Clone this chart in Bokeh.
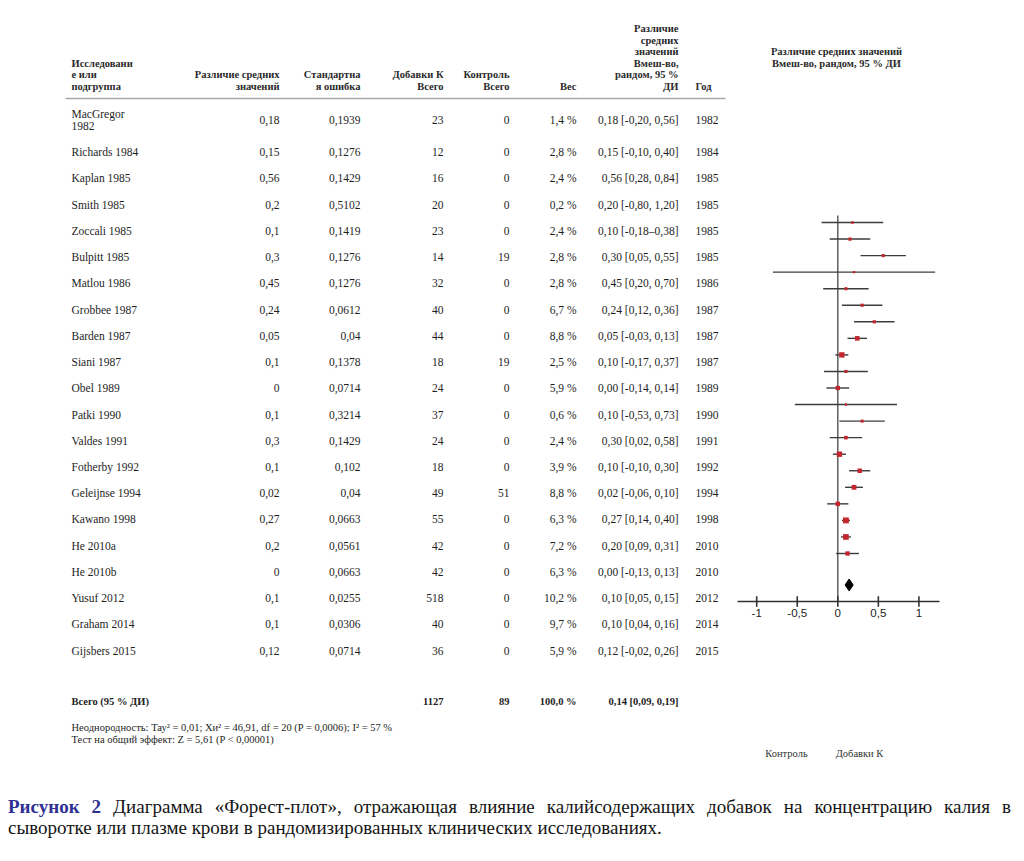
from bokeh.plotting import figure
from bokeh.models import Range1d, Div
from bokeh.layouts import column
from bokeh.core.properties import value
from bokeh.embed import file_html
from bokeh.resources import INLINE

# ---------------- data ----------------
studies = ["MacGregor\n1982", "Richards 1984", "Kaplan 1985", "Smith 1985", "Zoccali 1985",
           "Bulpitt 1985", "Matlou 1986", "Grobbee 1987", "Barden 1987", "Siani 1987",
           "Obel 1989", "Patki 1990", "Valdes 1991", "Fotherby 1992", "Geleijnse 1994",
           "Kawano 1998", "He 2010a", "He 2010b", "Yusuf 2012", "Graham 2014", "Gijsbers 2015"]
mean_diff = [0.18, 0.15, 0.56, 0.2, 0.1, 0.3, 0.45, 0.24, 0.05, 0.1, 0, 0.1, 0.3, 0.1,
             0.02, 0.27, 0.2, 0, 0.1, 0.1, 0.12]
std_err = [0.1939, 0.1276, 0.1429, 0.5102, 0.1419, 0.1276, 0.1276, 0.0612, 0.04, 0.1378,
           0.0714, 0.3214, 0.1429, 0.102, 0.04, 0.0663, 0.0561, 0.0663, 0.0255, 0.0306, 0.0714]
n_potassium = [23, 12, 16, 20, 23, 14, 32, 40, 44, 18, 24, 37, 24, 18, 49, 55, 42, 42, 518, 40, 36]
n_control = [0, 0, 0, 0, 0, 19, 0, 0, 0, 19, 0, 0, 0, 0, 51, 0, 0, 0, 0, 0, 0]
weight = [1.4, 2.8, 2.4, 0.2, 2.4, 2.8, 2.8, 6.7, 8.8, 2.5, 5.9, 0.6, 2.4, 3.9, 8.8, 6.3,
          7.2, 6.3, 10.2, 9.7, 5.9]
estimate = [0.18, 0.15, 0.56, 0.20, 0.10, 0.30, 0.45, 0.24, 0.05, 0.10, 0.00, 0.10, 0.30,
            0.10, 0.02, 0.27, 0.20, 0.00, 0.10, 0.10, 0.12]
ci_low = [-0.20, -0.10, 0.28, -0.80, -0.18, 0.05, 0.20, 0.12, -0.03, -0.17, -0.14, -0.53,
          0.02, -0.10, -0.06, 0.14, 0.09, -0.13, 0.05, 0.04, -0.02]
ci_high = [0.56, 0.40, 0.84, 1.20, 0.38, 0.55, 0.70, 0.36, 0.13, 0.37, 0.14, 0.73, 0.58,
           0.30, 0.10, 0.40, 0.31, 0.13, 0.15, 0.16, 0.26]
years = [1982, 1984, 1985, 1985, 1985, 1985, 1986, 1987, 1987, 1987, 1989, 1990, 1991, 1992,
         1994, 1998, 2010, 2010, 2012, 2014, 2015]
total_n_potassium = 1127
total_n_control = 89
total_weight = 100.0
total_est, total_low, total_high = 0.14, 0.09, 0.19
tick_values = [-1, -0.5, 0, 0.5, 1]
tick_labels = ["-1", "-0,5", "0", "0,5", "1"]

# ---------------- layout constants (screen px) ----------------
W, H = 1024, 796
SERIF = "Liberation Serif"
X_STUDY, X_MD, X_SE, X_NK, X_NC, X_W, X_CI, X_YEAR = 71, 279, 360, 443, 509, 576, 678, 695
ROW0_Y, ROW1_Y, ROW_DY = 119, 151.7, 26.23
HEAD_Y, HEAD_LH = 86, 11.6
FX0, FXS = 837.3, 81.1          # forest: screen x of 0, px per unit
FY0, FDY = 222, 16.55           # forest: screen y of first row, px per row
DIAMOND_ROW, AXIS_ROW = 21.9, 22.9


def fmt(v):
    return ("%g" % v).replace(".", ",")


def fmt2(v):
    return ("%.2f" % v).replace(".", ",")


ci_text = ["%s [%s, %s]" % (fmt2(e), fmt2(l), fmt2(h)) for e, l, h in zip(estimate, ci_low, ci_high)]
ci_text[4] = "%s [%s–%s]" % (fmt2(estimate[4]), fmt2(ci_low[4]), fmt2(ci_high[4]))
weight_text = [("%.1f %%" % w).replace(".", ",") for w in weight]

n = len(studies)
row_y = [ROW0_Y] + [ROW1_Y + (i - 1) * ROW_DY for i in range(1, n)]

p = figure(width=W, height=H, output_backend="svg", toolbar_location=None,
           x_range=Range1d(0, W), y_range=Range1d(H, 0),
           x_axis_location=None, y_axis_location=None, min_border=0,
           outline_line_color=None, background_fill_color="white")
p.grid.visible = False
p.extra_x_ranges = {"fx": Range1d((0 - FX0) / FXS, (W - FX0) / FXS)}
p.extra_y_ranges = {"fy": Range1d((H - FY0) / FDY, (0 - FY0) / FDY)}


def txt(xs, ys, texts, align="left", bold=False, size="11.5px", color="#1e1e1e", font=SERIF,
        **kw):
    p.text(x=xs, y=ys, text=texts, text_align=align, text_baseline="middle",
           text_font=value(font), text_font_size=value(size),
           text_font_style="bold" if bold else "normal", text_color=color,
           text_line_height=1.0, **kw)


# ---------------- header ----------------
HB = dict(bold=True, size="10.5px", color="#2a2a2a")


def header(x, lines, align):
    k = len(lines)
    txt([x] * k, [HEAD_Y - (k - 1 - j) * HEAD_LH for j in range(k)], lines, align=align, **HB)


header(X_STUDY, ["Исследовани", "е или", "подгруппа"], "left")
header(X_MD, ["Различие средних", "значений"], "right")
header(X_SE, ["Стандартна", "я ошибка"], "right")
header(X_NK, ["Добавки К", "Всего"], "right")
header(X_NC, ["Контроль", "Всего"], "right")
header(X_W, ["Вес"], "right")
header(X_CI, ["Различие", "средних", "значений", "Вмеш-во,", "рандом, 95 %", "ДИ"], "right")
header(X_YEAR, ["Год"], "left")
p.segment(x0=[65], x1=[725], y0=[98], y1=[98], line_color="#a8a8a8", line_width=1.5)

txt([836, 836], [50.5, 62.5], ["Различие средних значений", "Вмеш-во, рандом, 95 % ДИ"],
    align="center", **HB)

# ---------------- table body ----------------
two = [i for i, s in enumerate(studies) if "\n" in s]
single_idx = [i for i in range(n) if i not in two]
txt([X_STUDY] * len(single_idx), [row_y[i] for i in single_idx], [studies[i] for i in single_idx])
for i in two:
    parts = studies[i].split("\n")
    txt([X_STUDY] * len(parts), [row_y[i] - 6 + 12 * j for j in range(len(parts))], parts)

txt([X_MD] * n, row_y, [fmt(v) for v in mean_diff], align="right")
txt([X_SE] * n, row_y, [fmt(v) for v in std_err], align="right")
txt([X_NK] * n, row_y, [str(v) for v in n_potassium], align="right")
txt([X_NC] * n, row_y, [str(v) for v in n_control], align="right")
txt([X_W] * n, row_y, weight_text, align="right")
txt([X_CI] * n, row_y, ci_text, align="right")
txt([X_YEAR] * n, row_y, [str(v) for v in years], align="left")

# total row
TOT_Y = 701
txt([X_STUDY], [TOT_Y], ["Всего (95 % ДИ)"], bold=True, size="10.5px")
txt([X_NK, X_NC, X_W, X_CI], [TOT_Y] * 4,
    [str(total_n_potassium), str(total_n_control), ("%.1f %%" % total_weight).replace(".", ","),
     "%s [%s, %s]" % (fmt2(total_est), fmt2(total_low), fmt2(total_high))],
    align="right", bold=True, size="10.5px")

txt([X_STUDY, X_STUDY], [727, 739],
    ["Неоднородность: Тау² = 0,01; Хи² = 46,91, df = 20 (P = 0,0006); I² = 57 %",
     "Тест на общий эффект: Z = 5,61 (P < 0,00001)"], size="10.5px")

# ---------------- forest plot ----------------
F = dict(x_range_name="fx", y_range_name="fy")
rows = list(range(n))
p.segment(x0=[0], x1=[0], y0=[-0.42], y1=[AXIS_ROW], line_color="#555555", line_width=1.4, **F)
p.segment(x0=ci_low, x1=ci_high, y0=rows, y1=rows, line_color="#3c3c3c", line_width=1.4, **F)
p.scatter(x=estimate, y=rows, marker="square", size=[2.2 + 0.36 * w for w in weight],
          fill_color="#c4262e", line_color=None, **F)
p.patch(x=[total_low, total_est, total_high, total_est],
        y=[DIAMOND_ROW, DIAMOND_ROW - 0.36, DIAMOND_ROW, DIAMOND_ROW + 0.36],
        fill_color="black", line_color="black", **F)
p.segment(x0=[(737 - FX0) / FXS], x1=[(939 - FX0) / FXS], y0=[AXIS_ROW], y1=[AXIS_ROW],
          line_color="#333333", line_width=1.6, **F)
p.segment(x0=tick_values, x1=tick_values, y0=[AXIS_ROW - 0.32] * 5, y1=[AXIS_ROW + 0.32] * 5,
          line_color="#333333", line_width=1.6, **F)
p.text(x=tick_values, y=[AXIS_ROW + 0.72] * 5, text=tick_labels, text_align="center",
       text_baseline="middle", text_font=value("Liberation Sans"),
       text_font_size=value("11.5px"), text_color="#222222", **F)

txt([786, 859], [752.7, 752.7], ["Контроль", "Добавки К"], align="center", size="10.5px",
    color="#333333")

# ---------------- caption ----------------
cap_style = ("font-family:'Liberation Serif';font-size:19px;line-height:21px;color:#151515;"
             "margin-left:8px;width:1003px;")
caption = Div(
    text=('<div style="%s text-align:justify;text-align-last:justify;">'
          '<span style="color:#2e3192;font-weight:bold">Рисунок 2</span> Диаграмма '
          '«Форест-плот», отражающая влияние калийсодержащих добавок на концентрацию калия в</div>'
          '<div style="%s">сыворотке или плазме крови в рандомизированных клинических '
          'исследованиях.</div>') % (cap_style, cap_style),
    width=W, margin=(0, 0, 0, 0))

layout = column(p, caption, spacing=0)
open("out.html", "w").write(file_html(layout, INLINE))
